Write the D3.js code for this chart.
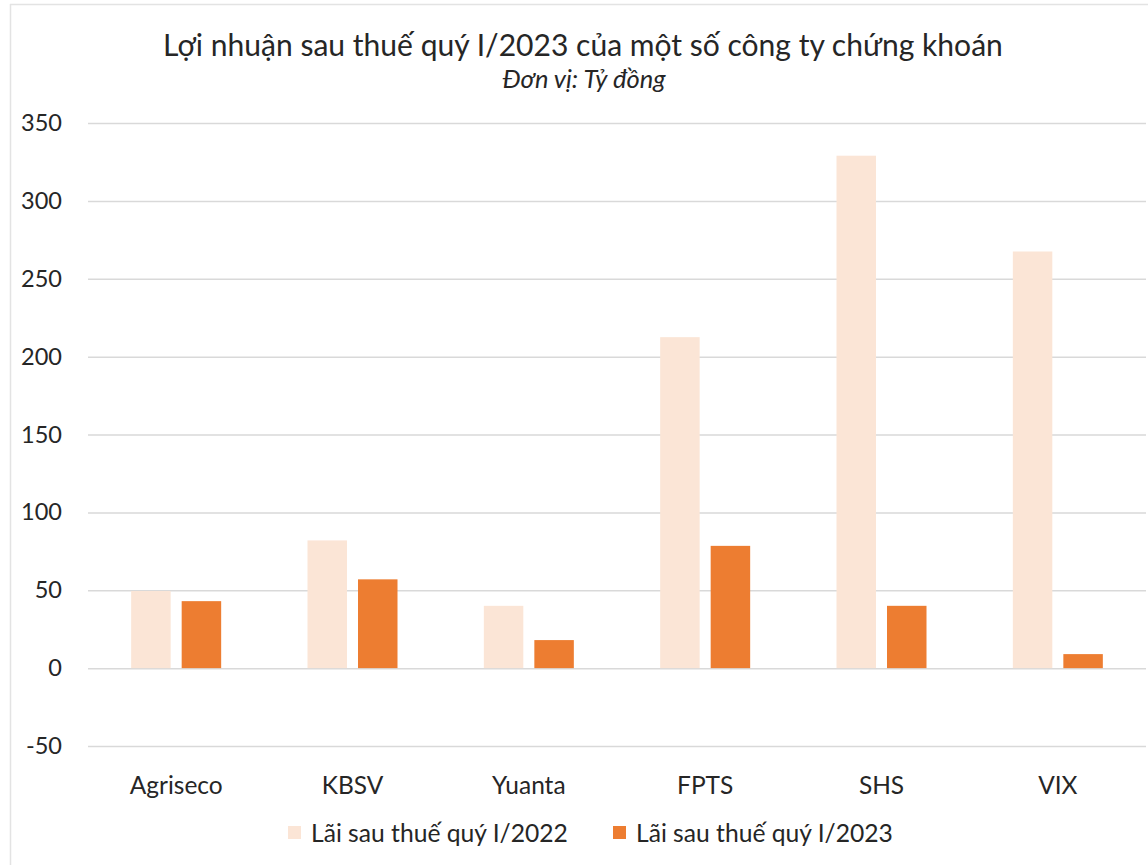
<!DOCTYPE html>
<html>
<head>
<meta charset="utf-8">
<script src="https://cdn.jsdelivr.net/npm/d3@7"></script>
<style>
  html, body { margin: 0; padding: 0; background: #fff; }
  svg { display: block; }
  text { font-family: Lato, "Open Sans", "DejaVu Sans", sans-serif; fill: #262626; }
</style>
</head>
<body>
<svg id="chart" width="1148" height="865"></svg>
<script>
const categories = ["Agriseco", "KBSV", "Yuanta", "FPTS", "SHS", "VIX"];
const seriesNames = ["Lãi sau thuế quý I/2022", "Lãi sau thuế quý I/2023"];
const values2022 = [49.5, 82, 40, 212.5, 329, 267.5];
const values2023 = [43, 57, 18, 78.5, 40, 9];
const yTicks = [-50, 0, 50, 100, 150, 200, 250, 300, 350];
const yTickLabels = ["-50", "0", "50", "100", "150", "200", "250", "300", "350"];
const titleText = "Lợi nhuận sau thuế quý I/2023 của một số công ty chứng khoán";
const subtitleText = "Đơn vị: Tỷ đồng";
const colors = ["#FBE5D6", "#ED7D31"];

const svg = d3.select("#chart");
const W = 1148, H = 865;

function fit(sel, target) {
  const node = sel.node();
  const fs = parseFloat(sel.attr("font-size"));
  const w = node.getComputedTextLength();
  sel.attr("font-size", fs * target / w);
  return fs * target / w;
}

// frame
svg.append("line").attr("x1", 10.5).attr("x2", 10.5).attr("y1", 4).attr("y2", H)
  .attr("stroke", "#E3E3E3").attr("stroke-width", 1.5);
svg.append("line").attr("x1", 10).attr("x2", W).attr("y1", 4.5).attr("y2", 4.5)
  .attr("stroke", "#E3E3E3").attr("stroke-width", 1.5);

const plot = { left: 88, right: 1146, top: 123, bottom: 746 };

const y = d3.scaleLinear().domain([-50, 350]).range([plot.bottom, plot.top]);
const x0 = d3.scaleBand().domain(categories).range([plot.left, plot.right]).paddingInner(0).paddingOuter(0);
const groupW = 90;
const x1 = d3.scaleBand().domain(seriesNames)
  .range([(x0.bandwidth() - groupW) / 2, (x0.bandwidth() + groupW) / 2])
  .paddingInner(0.218).paddingOuter(0);

// gridlines + y labels
const yAxis = d3.axisLeft(y).tickValues(yTicks).tickSize(-(plot.right - plot.left)).tickPadding(26)
  .tickFormat(d => yTickLabels[yTicks.indexOf(d)]);
const gY = svg.append("g").attr("transform", `translate(${plot.left},0)`).call(yAxis);
gY.select(".domain").remove();
gY.selectAll(".tick line").attr("stroke", "#D9D9D9").attr("stroke-width", 1.5);
gY.selectAll(".tick text").attr("font-size", 24).attr("fill", "#262626")
  .style("font-family", "Lato, 'Open Sans', sans-serif");
{
  const t = gY.selectAll(".tick text").filter(d => d === 350);
  const fs = fit(t, 41);
  gY.selectAll(".tick text").attr("font-size", fs);
}

// bars
const rows = categories.map((c, i) => ({ cat: c, vals: [values2022[i], values2023[i]] }));
const groups = svg.append("g").selectAll("g").data(rows).join("g")
  .attr("transform", d => `translate(${x0(d.cat)},0)`);
groups.selectAll("rect").data(d => d.vals.map((v, j) => ({ s: seriesNames[j], v, j })))
  .join("rect")
  .attr("x", d => x1(d.s))
  .attr("width", x1.bandwidth())
  .attr("y", d => y(Math.max(0, d.v)))
  .attr("height", d => Math.abs(y(d.v) - y(0)))
  .attr("fill", d => colors[d.j]);

// category labels
const xAxis = d3.axisBottom(x0).tickSize(0).tickPadding(0);
const gX = svg.append("g").attr("transform", `translate(0,${plot.bottom})`).call(xAxis);
gX.select(".domain").remove();
gX.selectAll(".tick text").attr("font-size", 24).attr("fill", "#262626")
  .attr("dy", null).attr("y", 48)
  .style("font-family", "Lato, 'Open Sans', sans-serif");
{
  const t = gX.selectAll(".tick text").filter(d => d === "Agriseco");
  const fs = fit(t, 93);
  gX.selectAll(".tick text").attr("font-size", fs);
}

// title
const title = svg.append("text").attr("x", 583).attr("y", 56).attr("text-anchor", "middle")
  .attr("font-size", 30).text(titleText);
fit(title, 840);
const sub = svg.append("text").attr("x", 584).attr("y", 88).attr("text-anchor", "middle")
  .attr("font-size", 20).attr("font-style", "italic").text(subtitleText);
fit(sub, 163);

// legend
const legendPos = [{ sx: 288, tx: 311 }, { sx: 613, tx: 636 }];
const leg = svg.append("g").selectAll("g").data(seriesNames).join("g");
leg.append("rect").attr("x", (d, i) => legendPos[i].sx).attr("y", 826).attr("width", 13).attr("height", 13)
  .attr("fill", (d, i) => colors[i]);
const legTexts = leg.append("text").attr("x", (d, i) => legendPos[i].tx).attr("y", 842)
  .attr("font-size", 24).text(d => d);
{
  const t = legTexts.filter((d, i) => i === 0);
  const fs = fit(t, 257);
  legTexts.attr("font-size", fs);
}
</script>
</body>
</html>
